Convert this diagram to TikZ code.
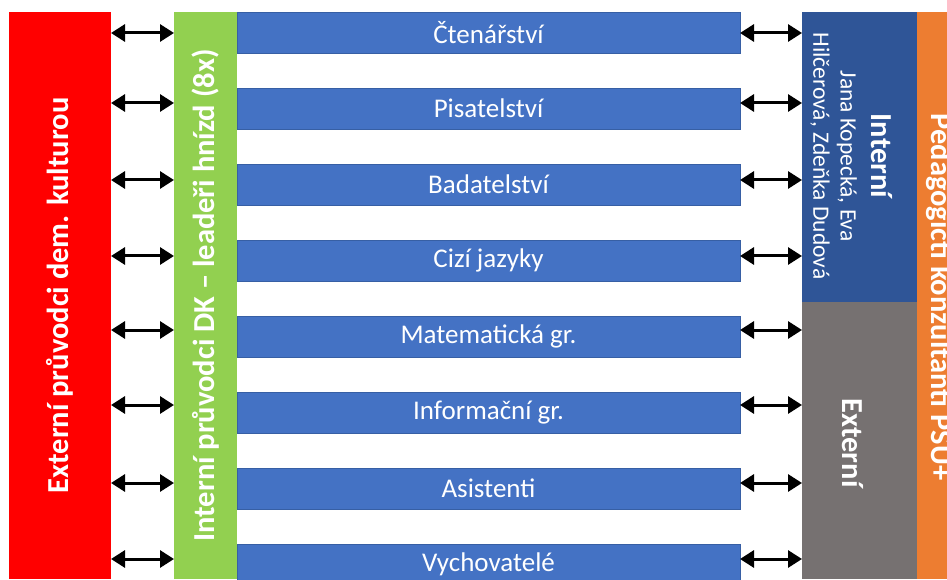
\documentclass[tikz,border=0pt]{standalone}
\usepackage{fontspec}
\setmainfont{Carlito}
\usetikzlibrary{arrows.meta}
\definecolor{cred}{HTML}{FF0000}
\definecolor{cgreen}{HTML}{92D050}
\definecolor{cbar}{HTML}{4472C4}
\definecolor{cbaredge}{HTML}{2F528F}
\definecolor{cdblue}{HTML}{2F5597}
\definecolor{cgray}{HTML}{767171}
\definecolor{corange}{HTML}{ED7D31}
\tikzset{
  panel/.style={inner sep=0pt, outer sep=0pt, anchor=north west},
  barbox/.style={panel, fill=cbar, draw=cbaredge!60!cbar, line width=0.6pt, minimum width=503pt, minimum height=41pt},
  bartext/.style={text=white, font=\fontsize{27}{31}\selectfont, inner sep=0pt},
  lbl/.style={text=white, font=\bfseries\fontsize{30.5}{34}\selectfont, inner sep=0pt},
  sublbl/.style={text=white, font=\fontsize{23.5}{28}\selectfont, inner sep=0pt},
  dbl/.style={{Triangle[length=14pt,width=17pt]}-{Triangle[length=14pt,width=17pt]}, line width=3pt, black}
}
\begin{document}
\begin{tikzpicture}[x=1pt,y=1pt]
\useasboundingbox (0,0) rectangle (947,579);
\clip (0,0) rectangle (947,579);
% left columns
\node[panel, fill=cred, minimum width=102pt, minimum height=567pt] (ext) at (9,567) {};
\node[lbl, rotate=90] (extl) at (ext.center) {Externí průvodci dem. kulturou};
\node[panel, fill=cgreen, minimum width=63pt, minimum height=567pt] (intg) at (174,567) {};
\node[lbl, rotate=90] (intgl) at (intg.center) {Interní průvodci DK – leadeři hnízd (8x)};
% right columns
\node[panel, fill=corange, minimum width=50pt, minimum height=567pt] (ped) at (917,567) {};
\node[lbl, rotate=-90, anchor=base] (pedl) at (931,282) {Pedagogičtí konzultanti PSU+};
\node[panel, fill=cdblue, minimum width=115pt, minimum height=290pt] (intb) at (802,567) {};
\node[panel, fill=cgray, minimum width=115pt, minimum height=277pt] (extg) at (802,277) {};
\node[lbl, rotate=-90] (intl1) at (882,423) {Interní};
\node[sublbl, rotate=-90] (intl2) at (847,423) {Jana Kopecká, Eva};
\node[sublbl, rotate=-90] (intl3) at (820,423) {Hilčerová, Zdeňka Dudová};
\node[lbl, rotate=-90] (extgl) at (853,136) {Externí};
% bars
\foreach \t [count=\i from 0] in {Čtenářství,Pisatelství,Badatelství,Cizí jazyky,Matematická gr.,Informační gr.,Asistenti,Vychovatelé}{
  \node[barbox] (b\i) at (237,567-76*\i) {};
  \node[bartext] (bt\i) at (b\i.center) {\t};
}
% arrows
\foreach \y [count=\i from 0] in {33,103,180,256,330,405,483,559}{
  \coordinate (a\i) at (0,579-\y);
  \draw[dbl] (ext.east |- a\i) -- (intg.west |- a\i);
}
\foreach \i in {0,1,2,3}{\draw[dbl] (b\i.east |- a\i) -- (intb.west |- a\i);}
\foreach \i in {4,5,6,7}{\draw[dbl] (b\i.east |- a\i) -- (extg.west |- a\i);}
\end{tikzpicture}
\end{document}
